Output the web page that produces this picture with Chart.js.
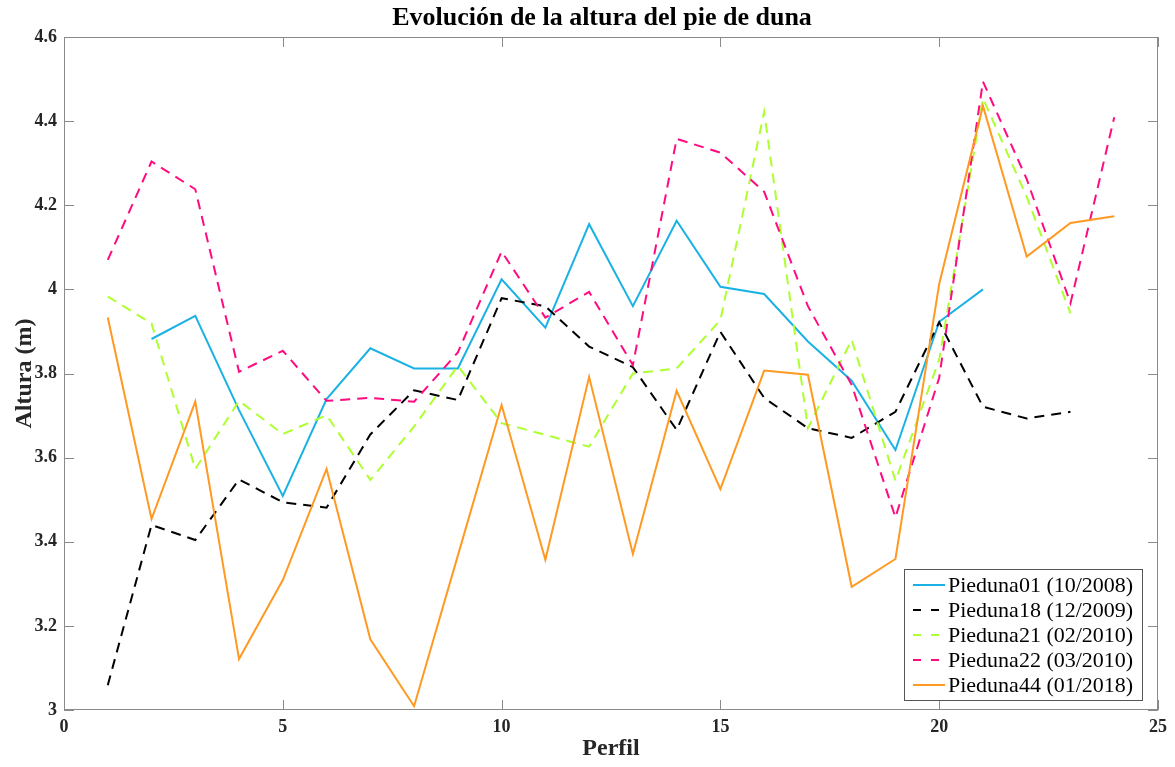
<!DOCTYPE html>
<html lang="es">
<head>
    <meta charset="UTF-8">
    <title>Evolución de la altura del pie de duna</title>
    <script src="https://cdn.jsdelivr.net/npm/chart.js"></script>
    <style>
        body { margin: 0; background: #fff; }
        #wrap { width: 1175px; height: 767px; }
    </style>
</head>
<body>
    <div id="wrap">
        <canvas id="dunaChart" width="1175" height="767"></canvas>
    </div>

    <script>
        // Perfiles (eje X)
        const perfiles = [1, 2, 3, 4, 5, 6, 7, 8, 9, 10, 11, 12, 13, 14, 15, 16, 17, 18, 19, 20, 21, 22, 23, 24];

        // Altura del pie de duna (m) por campaña, null = sin dato
        const pieduna01 = [null, 3.882, 3.937, 3.713, 3.509, 3.739, 3.860, 3.812, 3.812, 4.024, 3.909, 4.155,
                           3.960, 4.163, 4.006, 3.989, 3.876, 3.783, 3.618, 3.923, 4.000, null, null, null];
        const pieduna18 = [3.059, 3.440, 3.404, 3.548, 3.494, 3.481, 3.655, 3.760, 3.737, 3.979, 3.960, 3.864,
                           3.815, 3.666, 3.899, 3.742, 3.670, 3.647, 3.709, 3.922, 3.721, 3.693, 3.709, null];
        const pieduna21 = [3.983, 3.919, 3.573, 3.735, 3.656, 3.701, 3.547, 3.674, 3.818, 3.682, 3.654, 3.626,
                           3.800, 3.812, 3.927, 4.422, 3.670, 3.880, 3.545, 3.833, 4.454, 4.220, 3.943, null];
        const pieduna22 = [4.070, 4.304, 4.238, 3.804, 3.854, 3.735, 3.742, 3.733, 3.850, 4.090, 3.933, 3.994,
                           3.820, 4.358, 4.325, 4.232, 3.960, 3.773, 3.458, 3.790, 4.494, 4.262, 3.967, 4.409];
        const pieduna44 = [3.933, 3.454, 3.733, 3.121, 3.309, 3.573, 3.168, 3.009, 3.367, 3.725, 3.357, 3.792,
                           3.371, 3.759, 3.525, 3.807, 3.797, 3.293, 3.359, 4.013, 4.436, 4.078, 4.158, 4.174];

        const seriesLabels = ['Pieduna01 (10/2008)', 'Pieduna18 (12/2009)', 'Pieduna21 (02/2010)',
                              'Pieduna22 (03/2010)', 'Pieduna44 (01/2018)'];
        const seriesValues = [pieduna01, pieduna18, pieduna21, pieduna22, pieduna44];
        const seriesColors = ['#1AB2E5', '#000000', '#ADFF2F', '#FF0A7F', '#FF9922'];
        const seriesDashed = [false, true, true, true, false];

        const serif = "'Liberation Serif', 'Times New Roman', serif";
        const axisGray = '#8a8a8a';

        const datasets = seriesValues.map((vals, i) => ({
            label: seriesLabels[i],
            data: perfiles.map((p, j) => ({ x: p, y: vals[j] })),
            borderColor: seriesColors[i],
            borderWidth: 2,
            borderDash: seriesDashed[i] ? [10, 7] : [],
            pointRadius: 0,
            tension: 0,
            fill: false,
            order: seriesValues.length - i   // later series drawn on top, as in MATLAB
        }));

        // Title, axes box with inward ticks, and legend inside the plot
        const matlabLook = {
            id: 'matlabLook',
            afterDatasetsDraw(chart) {
                const { ctx, chartArea: a, scales: { x, y } } = chart;
                ctx.save();
                ctx.strokeStyle = axisGray;
                ctx.lineWidth = 1;
                ctx.setLineDash([]);
                ctx.strokeRect(a.left + 0.5, a.top + 0.5, a.right - a.left - 1, a.bottom - a.top - 1);
                const tl = 10;
                ctx.beginPath();
                x.ticks.forEach(t => {
                    const px = Math.round(x.getPixelForValue(t.value)) + 0.5;
                    ctx.moveTo(px, a.bottom); ctx.lineTo(px, a.bottom - tl);
                    ctx.moveTo(px, a.top); ctx.lineTo(px, a.top + tl);
                });
                y.ticks.forEach(t => {
                    const py = Math.round(y.getPixelForValue(t.value)) + 0.5;
                    ctx.moveTo(a.left, py); ctx.lineTo(a.left + tl, py);
                    ctx.moveTo(a.right, py); ctx.lineTo(a.right - tl, py);
                });
                ctx.stroke();
                ctx.restore();
            },
            afterDraw(chart) {
                const { ctx } = chart;
                ctx.save();
                // title
                ctx.fillStyle = '#000';
                ctx.font = 'bold 26px ' + serif;
                ctx.textAlign = 'center';
                ctx.textBaseline = 'middle';
                ctx.fillText('Evolución de la altura del pie de duna', 602, 18);

                // legend
                const bx = 904.5, by = 569.5, bw = 238, bh = 131;
                ctx.fillStyle = '#fff';
                ctx.fillRect(bx, by, bw, bh);
                ctx.strokeStyle = '#555';
                ctx.lineWidth = 1;
                ctx.strokeRect(bx, by, bw, bh);
                ctx.font = '22px ' + serif;
                ctx.textAlign = 'left';
                chart.data.datasets.forEach((ds, i) => {
                    const ry = 585 + i * 25;
                    ctx.strokeStyle = ds.borderColor;
                    ctx.lineWidth = 2;
                    ctx.setLineDash(seriesDashed[i] ? [8, 10] : []);
                    ctx.beginPath();
                    ctx.moveTo(913, ry);
                    ctx.lineTo(945, ry);
                    ctx.stroke();
                    ctx.fillStyle = '#000';
                    ctx.fillText(ds.label, 948, ry + 1);
                });
                ctx.restore();
            }
        };

        new Chart(document.getElementById('dunaChart'), {
            type: 'line',
            data: { datasets: datasets },
            options: {
                responsive: false,
                animation: false,
                layout: { padding: { top: 37, right: 17, left: 0, bottom: 0 } },
                plugins: {
                    legend: { display: false },
                    title: { display: false },
                    tooltip: { enabled: false }
                },
                scales: {
                    x: {
                        type: 'linear',
                        min: 0,
                        max: 25,
                        grid: { display: false, drawTicks: false },
                        border: { display: false },
                        ticks: {
                            stepSize: 5,
                            padding: 7,
                            color: '#262626',
                            font: { family: serif, size: 18, weight: 'bold' }
                        },
                        title: {
                            display: true,
                            text: 'Perfil',
                            color: '#262626',
                            padding: { top: 0, bottom: 4 },
                            font: { family: serif, size: 24, weight: 'bold' }
                        },
                        afterFit(scale) { scale.height = 57; }
                    },
                    y: {
                        min: 3,
                        max: 4.6,
                        grid: { display: false, drawTicks: false },
                        border: { display: false },
                        ticks: {
                            stepSize: 0.2,
                            padding: 7,
                            color: '#262626',
                            font: { family: serif, size: 18, weight: 'bold' },
                            callback: v => String(+v.toFixed(1))
                        },
                        title: {
                            display: true,
                            text: 'Altura (m)',
                            color: '#262626',
                            padding: { top: 10, bottom: 0 },
                            font: { family: serif, size: 24, weight: 'bold' }
                        },
                        afterFit(scale) { scale.width = 64; }
                    }
                }
            },
            plugins: [matlabLook]
        });
    </script>
</body>
</html>
